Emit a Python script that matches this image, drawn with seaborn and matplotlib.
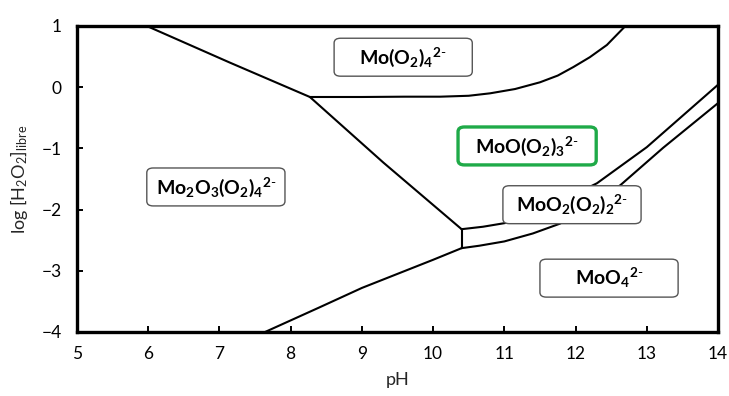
import numpy as np
import pandas as pd
import matplotlib
matplotlib.use("Agg")
import matplotlib.pyplot as plt
from matplotlib.patches import FancyBboxPatch
import seaborn as sns

# ---- data (boundary lines of the predominance diagram) ----
seg_a_ph = [5.98, 7.15, 8.27]
seg_a_y = [1.00, 0.40, -0.16]

seg_b_ph = [8.27, 9.0, 9.6, 10.1, 10.5, 10.8, 11.15, 11.5, 11.75, 11.97, 12.2, 12.44, 12.7]
seg_b_y = [-0.16, -0.16, -0.155, -0.155, -0.14, -0.10, -0.03, 0.08, 0.19, 0.33, 0.49, 0.69, 1.00]

seg_c_ph = [8.27, 9.30, 10.40]
seg_c_y = [-0.16, -1.23, -2.32]

seg_d_ph = [10.40, 10.40]
seg_d_y = [-2.32, -2.63]

seg_e_ph = [7.64, 8.4, 9.0, 9.5, 10.0, 10.40]
seg_e_y = [-4.00, -3.60, -3.28, -3.05, -2.82, -2.63]

seg_f_ph = [10.40, 10.70, 11.01, 11.6, 12.3, 13.0, 14.0]
seg_f_y = [-2.32, -2.28, -2.22, -1.97, -1.57, -0.98, 0.04]

seg_g_ph = [10.40, 10.65, 11.0, 11.4, 11.78, 12.2, 12.63, 13.23, 14.0]
seg_g_y = [-2.63, -2.59, -2.52, -2.39, -2.23, -1.95, -1.60, -0.99, -0.26]

species = [r"$\mathbf{Mo(O_2)_4}^{\mathbf{2\text{-}}}$",
           r"$\mathbf{MoO(O_2)_3}^{\mathbf{2\text{-}}}$",
           r"$\mathbf{Mo_2O_3(O_2)_4}^{\mathbf{2\text{-}}}$",
           r"$\mathbf{MoO_2(O_2)_2}^{\mathbf{2\text{-}}}$",
           r"$\mathbf{MoO_4}^{\mathbf{2\text{-}}}$"]
species_ph = [9.58, 11.32, 6.95, 11.95, 12.47]
species_y = [0.49, -0.96, -1.63, -1.92, -3.12]

x_ticks = [5, 6, 7, 8, 9, 10, 11, 12, 13, 14]
y_ticks = [-4, -3, -2, -1, 0, 1]

# ---- build long table ----
segs = [(seg_a_ph, seg_a_y), (seg_b_ph, seg_b_y), (seg_c_ph, seg_c_y),
        (seg_d_ph, seg_d_y), (seg_e_ph, seg_e_y), (seg_f_ph, seg_f_y),
        (seg_g_ph, seg_g_y)]
rows = []
for i, (xs, ys) in enumerate(segs):
    for k, (x, y) in enumerate(zip(xs, ys)):
        rows.append({"seg": i, "order": k, "pH": x, "logH2O2": y})
df = pd.DataFrame(rows)

sns.set_theme(style="white")
plt.rcParams["font.family"] = ["Lato", "DejaVu Sans"]
plt.rcParams["mathtext.fontset"] = "custom"
plt.rcParams["mathtext.rm"] = "Lato"
plt.rcParams["mathtext.it"] = "Lato:italic"
plt.rcParams["mathtext.bf"] = "Lato:bold"

fig = plt.figure(figsize=(7.29, 3.96), dpi=100)
ax = fig.add_axes([77 / 729, (396 - 332) / 396, (718 - 77) / 729, (332 - 26) / 396])

sns.lineplot(data=df, x="pH", y="logH2O2", units="seg", estimator=None,
             sort=False, color="black", linewidth=1.5, ax=ax, legend=False)

ax.set_xlim(5, 14)
ax.set_ylim(-4, 1)
ax.set_xticks(x_ticks)
ax.set_yticks(y_ticks)
ax.tick_params(axis="both", direction="in", length=4, width=1.4, colors="black",
               labelsize=12.5, bottom=True, left=True, top=False, right=False)
ax.tick_params(axis="x", pad=10)
ax.tick_params(axis="y", pad=11)
for s in ax.spines.values():
    s.set_color("black")
    s.set_linewidth(2.4)

ax.set_xlabel("pH", fontsize=13, labelpad=7)
ax.set_ylabel(r"log [H$_2$O$_2$]$_{\mathrm{libre}}$", fontsize=13, labelpad=8)

# species boxes
bw, bh = 1.94, 0.62
aspect = 71.2 / 61.2
for i, (lab, cx, cy) in enumerate(zip(species, species_ph, species_y)):
    green = (i == 1)
    patch = FancyBboxPatch((cx - bw / 2, cy - bh / 2), bw, bh,
                           boxstyle="round,pad=0,rounding_size=0.09",
                           mutation_aspect=1 / aspect,
                           facecolor="white",
                           edgecolor="#1faa48" if green else "#555555",
                           linewidth=2.4 if green else 1.0, zorder=5)
    ax.add_patch(patch)
    ax.text(cx, cy, lab, ha="center", va="center", fontsize=14,
            color="black", zorder=6)

fig.savefig("out.png", dpi=100)
